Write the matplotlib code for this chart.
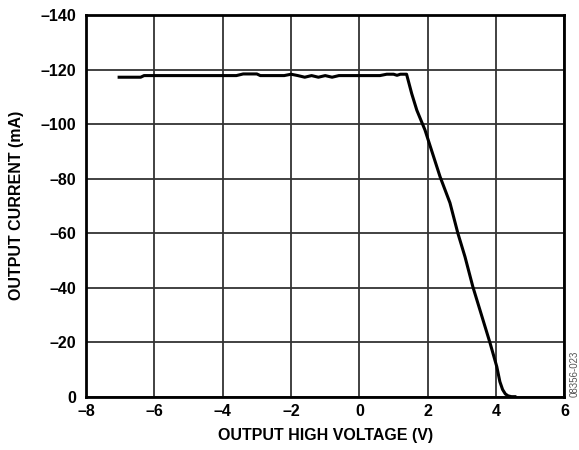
import matplotlib
matplotlib.use("Agg")
import matplotlib.pyplot as plt

# Output current vs output high voltage
voltage = [-7.03, -6.4, -6.3, -3.6, -3.4, -3.0, -2.9, -2.2, -2.0, -1.8, -1.6, -1.4,
           -1.2, -1.0, -0.8, -0.6, 0.6, 0.8, 1.0, 1.1, 1.2, 1.38,
           1.53, 1.68, 1.92, 2.36, 2.65, 2.88, 3.09, 3.32, 3.82, 4.02, 4.11, 4.19,
           4.27, 4.35, 4.45, 4.55]
current = [-117.2, -117.2, -117.8, -117.8, -118.4, -118.4, -117.8, -117.8, -118.3, -117.8,
           -117.2, -117.8, -117.2, -117.8, -117.2, -117.8, -117.8, -118.3, -118.3, -117.9,
           -118.3, -118.3, -111.2, -105.1, -97.8, -80.7, -71.1, -60.0, -51.3, -40.3, -19.8,
           -11.0, -5.5, -2.6, -1.0, -0.3, 0.0, 0.0]

x_ticks = [-8, -6, -4, -2, 0, 2, 4, 6]
y_ticks = [0, -20, -40, -60, -80, -100, -120, -140]

plt.rcParams['font.family'] = ['Liberation Sans', 'DejaVu Sans']

fig = plt.figure(figsize=(5.79, 4.5), dpi=100)
ax = fig.add_axes([0.1485, 0.1185, 0.8264, 0.848])

ax.plot(voltage, current, color='black', lw=2.2, solid_joinstyle='round')

ax.set_xlim(-8, 6)
ax.set_ylim(0, -140)
ax.set_xticks(x_ticks)
ax.set_yticks(y_ticks)
ax.set_xticklabels([str(t).replace('-', '\u2013') for t in x_ticks], fontsize=11.5, fontweight='bold')
ax.set_yticklabels([str(t).replace('-', '\u2013') for t in y_ticks], fontsize=11.5, fontweight='bold')
ax.tick_params(axis='x', length=0, pad=5)
ax.tick_params(axis='y', length=0, pad=7)
ax.grid(True, color='#333333', lw=1.3)
ax.set_axisbelow(True)
for s in ax.spines.values():
    s.set_linewidth(2)
    s.set_color('black')

ax.set_xlabel('OUTPUT HIGH VOLTAGE (V)', fontsize=11.5, fontweight='bold', labelpad=7)
ax.set_ylabel('OUTPUT CURRENT (mA)', fontsize=11.5, fontweight='bold', labelpad=12)

# figure code, rotated in the right margin
fig.text(0.993, 0.118, '08356-023', rotation=90, fontsize=7, color='#555555',
         ha='center', va='bottom')

plt.savefig('out.png', dpi=100)
